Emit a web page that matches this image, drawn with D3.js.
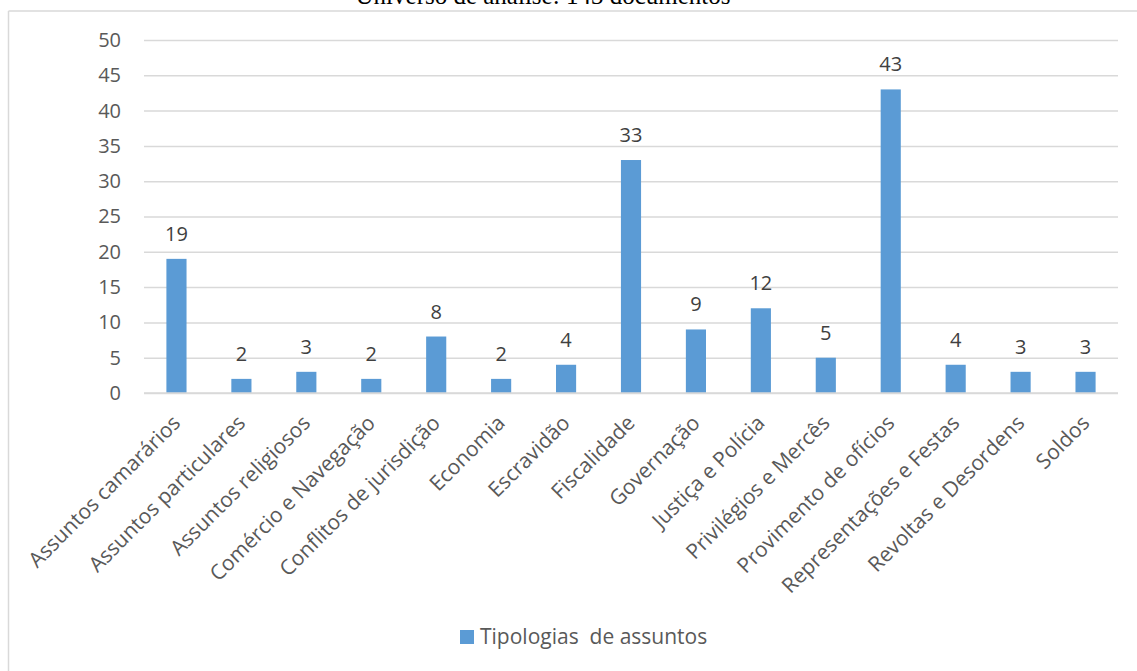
<!DOCTYPE html>
<html>
<head>
<meta charset="utf-8">
<script src="https://cdn.jsdelivr.net/npm/d3@7"></script>
<style>
  body { margin: 0; background: #fff; }
</style>
</head>
<body>
<div class="chart"></div>
<script>
// dados
var titulo = "Universo de análise: 143 documentos";
var serie = "Tipologias  de assuntos";
var categorias = ["Assuntos camarários", "Assuntos particulares", "Assuntos religiosos",
  "Comércio e Navegação", "Conflitos de jurisdição", "Economia", "Escravidão",
  "Fiscalidade", "Governação", "Justiça e Polícia", "Privilégios e Mercês",
  "Provimento de ofícios", "Representações e Festas", "Revoltas e Desordens", "Soldos"];
var valores = [19, 2, 3, 2, 8, 2, 4, 33, 9, 12, 5, 43, 4, 3, 3];
var yTicks = [0, 5, 10, 15, 20, 25, 30, 35, 40, 45, 50];

// configuração básica
var w = 1137, h = 671;
var pLeft = 144, pRight = 1118, pTop = 40, pBottom = 393;
var azul = "#5b9bd5";
var fonte = "'Open Sans', sans-serif";
var fs = "20px";

var svg = d3.select(".chart").append("svg")
  .attr("width", w)
  .attr("height", h);

// moldura (só topo e esquerda visíveis)
svg.append("line").attr("x1", 8.5).attr("x2", w).attr("y1", 11).attr("y2", 11)
  .attr("stroke", "#d9d9d9").attr("stroke-width", 1.5);
svg.append("line").attr("x1", 8.5).attr("x2", 8.5).attr("y1", 11).attr("y2", h)
  .attr("stroke", "#d9d9d9").attr("stroke-width", 1.5);

// título (cortado no topo)
svg.append("text")
  .attr("x", 543).attr("y", 4)
  .attr("text-anchor", "middle")
  .attr("font-family", "'Liberation Serif', 'Times New Roman', serif")
  .attr("font-size", "25px")
  .attr("fill", "#000")
  .text(titulo);

var x = d3.scaleBand()
  .domain(categorias)
  .range([pLeft, pRight])
  .paddingInner(0.69)
  .paddingOuter(0.345);

var y = d3.scaleLinear()
  .domain([0, 50])
  .range([pBottom, pTop]);

// linhas de grade + rótulos do eixo y
var yAxis = d3.axisLeft(y).tickValues(yTicks).tickSize(-(pRight - pLeft)).tickPadding(23);
var gy = svg.append("g").attr("transform", "translate(" + pLeft + ",0)").call(yAxis);
gy.select(".domain").remove();
gy.selectAll(".tick line").attr("stroke", "#d9d9d9").attr("stroke-width", 1.5);
gy.selectAll(".tick text")
  .attr("font-family", fonte).attr("font-size", fs).attr("fill", "#595959");

// barras
svg.selectAll("rect.bar")
  .data(valores)
  .enter()
  .append("rect")
  .attr("class", "bar")
  .attr("x", function(d, i) { return x(categorias[i]); })
  .attr("y", function(d) { return y(d); })
  .attr("width", x.bandwidth())
  .attr("height", function(d) { return y(0) - y(d); })
  .attr("fill", azul);

// rótulos de dados
svg.selectAll("text.valor")
  .data(valores)
  .enter()
  .append("text")
  .attr("class", "valor")
  .attr("x", function(d, i) { return x(categorias[i]) + x.bandwidth() / 2; })
  .attr("y", function(d) { return y(d) - 18; })
  .attr("text-anchor", "middle")
  .attr("font-family", fonte).attr("font-size", fs).attr("fill", "#404040")
  .text(function(d) { return d; });

// eixo x
svg.append("line").attr("x1", pLeft).attr("x2", pRight).attr("y1", pBottom).attr("y2", pBottom)
  .attr("stroke", "#d9d9d9").attr("stroke-width", 1.5);

svg.selectAll("text.cat")
  .data(categorias)
  .enter()
  .append("text")
  .attr("class", "cat")
  .attr("transform", function(d) {
    return "translate(" + (x(d) + x.bandwidth() / 2) + "," + (pBottom + 26) + ") rotate(-45)";
  })
  .attr("text-anchor", "end")
  .attr("dy", "0.35em")
  .attr("font-family", fonte).attr("font-size", "21px").attr("fill", "#595959")
  .text(function(d) { return d; });

// legenda
var lg = svg.append("g").attr("transform", "translate(460,630)");
lg.append("rect").attr("width", 14).attr("height", 14).attr("fill", azul);
lg.append("text").attr("x", 20).attr("y", 14)
  .attr("font-family", fonte).attr("font-size", "21px").attr("fill", "#595959")
  .attr("xml:space", "preserve").style("white-space", "pre")
  .text(serie);
</script>
</body>
</html>
